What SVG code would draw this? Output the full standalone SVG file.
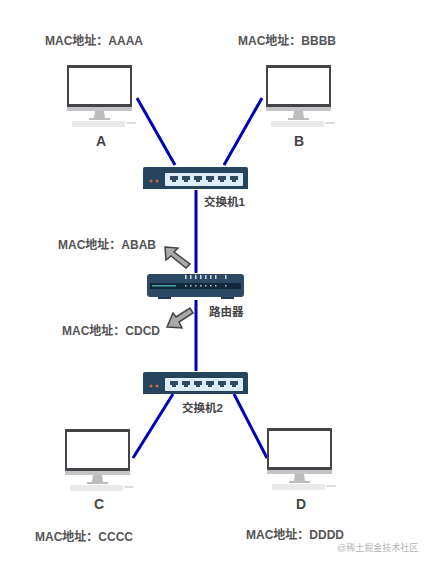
<svg xmlns="http://www.w3.org/2000/svg" width="432" height="567" viewBox="0 0 432 567">
<style>
text{font-family:"Liberation Sans","Noto Sans CJK SC",sans-serif;font-size:12px;font-weight:700;fill:#555}
.sw{font-size:11.500px;fill:#444}
.n{font-size:14px;fill:#444;text-anchor:middle}
.wm{font-size:9px;font-weight:400;fill:#b5b5b5}
.link{stroke:#0000b4;stroke-width:3;fill:none}
.arr{fill:#a9a9a9;stroke:#444;stroke-width:1.5}
</style>
<defs>
<g id="pc">
<rect x="0" y="0" width="65" height="46" fill="#c4c4c6"/>
<rect x="0" y="0" width="65" height="42" rx="1" fill="#444448"/>
<rect x="2" y="3" width="61" height="36" fill="#fff"/>
<path d="M28 46h9l1 7h5v2H22v-2h5z" fill="#bcbcbc"/>
<rect x="5" y="56" width="53" height="6" rx="1" fill="#e9e9e9"/>
<rect x="59" y="57" width="10" height="2" rx="1" fill="#dcdcdc"/>
</g>
<g id="switch">
<path d="M2 0H103a2 2 0 0 1 2 2V22H0V2a2 2 0 0 1 2-2z" fill="#27445f"/>
<circle cx="8" cy="14" r="1.600" fill="#c8623c"/><circle cx="14" cy="14" r="1.600" fill="#c8623c"/>
<rect x="22" y="6" width="78" height="13" rx="1" fill="#dcecf8"/>
<g fill="#2f4a62">
<path d="M27 9h8v4h-2v2h-4v-2h-2z"/>
<path d="M39 9h8v4h-2v2h-4v-2h-2z"/><path d="M51 9h8v4h-2v2h-4v-2h-2z"/>
<path d="M63 9h8v4h-2v2h-4v-2h-2z"/><path d="M75 9h8v4h-2v2h-4v-2h-2z"/><path d="M87 9h8v4h-2v2h-4v-2h-2z"/>
</g>
</g>
</defs>
<rect width="432" height="567" fill="#fff"/>
<g id="connectors">
<line class="link" x1="137" y1="98" x2="175" y2="165"/>
<line class="link" x1="262" y1="98" x2="224" y2="165"/>
<line class="link" x1="196" y1="190" x2="196" y2="273"/>
<line class="link" x1="196" y1="300" x2="196" y2="371"/>
<line class="link" x1="173" y1="394" x2="133" y2="458"/>
<line class="link" x1="234" y1="394" x2="267" y2="458"/>
</g>
<g id="pc-a"><use href="#pc" x="67" y="65"/><text class="n" x="101" y="146">A</text><text x="45" y="45">MAC地址：AAAA</text></g>
<g id="pc-b"><use href="#pc" x="266" y="65"/><text class="n" x="299" y="146">B</text><text x="238" y="45">MAC地址：BBBB</text></g>
<g id="pc-c"><use href="#pc" x="65" y="429"/><text class="n" x="99" y="509">C</text><text x="35" y="541">MAC地址：CCCC</text></g>
<g id="pc-d"><use href="#pc" x="267" y="428"/><text class="n" x="301" y="509">D</text><text x="246" y="539">MAC地址：DDDD</text></g>
<g id="switch1"><use href="#switch" x="143" y="167"/><text class="sw" x="204" y="206">交换机1</text></g>
<g id="switch2"><use href="#switch" x="143" y="372"/><text class="sw" x="182" y="412">交换机2</text></g>
<g id="router">
<rect x="158" y="296" width="13" height="3" fill="#223a50"/><rect x="221" y="296" width="13" height="3" fill="#223a50"/>
<rect x="147" y="274" width="97" height="23" rx="3" fill="#2c4a66"/>
<rect x="150" y="283" width="91" height="6" fill="#14283c"/>
<rect x="152" y="285" width="24" height="1.500" fill="#4aa0a8"/>
<g fill="#cfd8de"><path d="M185 275h1.500v4H185zM190 275h1.500v4H190zM195 275h1.500v4H195zM200 275h1.500v4H200zM205 275h1.500v4H205zM210 275h1.500v4H210zM215 275h1.500v4H215zM225 275h1.500v4H225z"/></g>
<g fill="#9fd0d8"><path d="M185 285h1.500v1.500H185zM190 285h1.500v1.500H190zM195 285h1.500v1.500H195zM200 285h1.500v1.500H200zM205 285h1.500v1.500H205zM210 285h1.500v1.500H210zM215 285h1.500v1.500H215zM225 285h1.500v1.500H225z"/></g>
<text class="sw" x="209" y="316">路由器</text>
</g>
<g id="mac-router"><text x="58" y="249">MAC地址：ABAB</text><text x="62" y="335">MAC地址：CDCD</text></g>
<g id="arrows">
<path class="arr" d="M165 247L178 248 174 252 190 264 186 268 171 256 166 260z"/>
<path class="arr" d="M167 327L182 328 179 322 193 313 190 308 176 317 173 313z"/>
</g>
<text class="wm" x="337" y="551">@稀土掘金技术社区</text>
</svg>
